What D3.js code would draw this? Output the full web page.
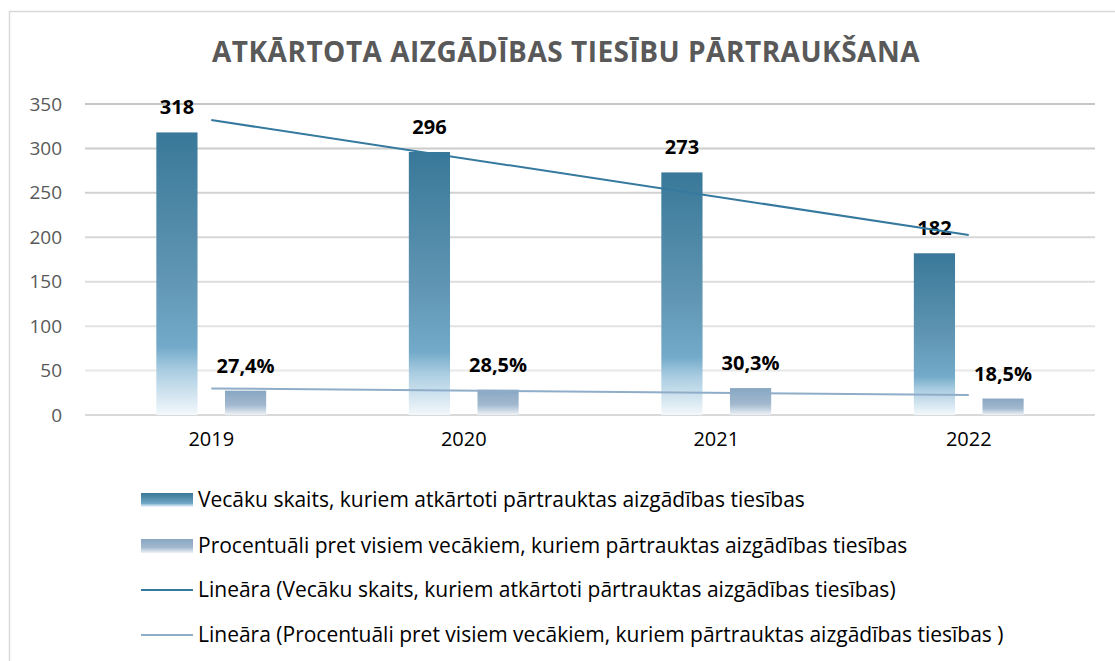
<!DOCTYPE html>
<html>
<head>
<meta charset="utf-8">
<script src="https://cdn.jsdelivr.net/npm/d3@7"></script>
<style>
  body { margin: 0; background: #fff; overflow: hidden; }
  svg { display: block; }
  text { font-family: "Open Sans", Lato, sans-serif; }
</style>
</head>
<body>
<div id="chart"></div>
<script>
const years = ['2019', '2020', '2021', '2022']
const parents = [318, 296, 273, 182]
const percents = [27.4, 28.5, 30.3, 18.5]
const yTickValues = [0, 50, 100, 150, 200, 250, 300, 350]
const title = 'ATKĀRTOTA AIZGĀDĪBAS TIESĪBU PĀRTRAUKŠANA'
const legendNames = [
  'Vecāku skaits, kuriem atkārtoti pārtrauktas aizgādības tiesības',
  'Procentuāli pret visiem vecākiem, kuriem pārtrauktas aizgādības tiesības',
  'Lineāra (Vecāku skaits, kuriem atkārtoti pārtrauktas aizgādības tiesības)',
  'Lineāra (Procentuāli pret visiem vecākiem, kuriem pārtrauktas aizgādības tiesības )'
]

const width = 1115, height = 661
const margin = {left: 85, right: 20, top: 104, bottom: 246}
const innerWidth = width - margin.left - margin.right
const innerHeight = height - margin.top - margin.bottom
const fontFam = '"Open Sans", Lato, sans-serif'

const lvFormat = d3.formatLocale({decimal: ',', thousands: ' ', grouping: [3], currency: ['', '€']})
const pctFormat = d => lvFormat.format('.1f')(d) + '%'

const svg = d3.select('#chart').append('svg')
  .attr('width', width)
  .attr('height', height)

const defs = svg.append('defs')

function gradient(id, stops) {
  const gr = defs.append('linearGradient')
    .attr('id', id)
    .attr('x1', 0).attr('y1', 0).attr('x2', 0).attr('y2', 1)
  gr.selectAll('stop').data(stops).enter().append('stop')
    .attr('offset', d => d[0])
    .attr('stop-color', d => d[1])
}
gradient('gradParents', [[0, '#397899'], [0.5, '#5f95b2'], [0.76, '#73aac9'], [0.84, '#a9cce1'], [1, '#f3f8fb']])
gradient('gradPct', [[0, '#88a6c2'], [0.6, '#a2b9cf'], [1, '#eef2f6']])

// outer frame of the chart (only top and left edges are inside the window)
svg.append('path')
  .attr('d', `M9.5,${height}V11.5H${width}`)
  .attr('fill', 'none')
  .attr('stroke', '#d9d9d9')
  .attr('stroke-width', 1.5)

svg.append('text')
  .attr('x', 566)
  .attr('y', 62)
  .attr('text-anchor', 'middle')
  .attr('fill', '#595959')
  .attr('font-size', 28)
  .attr('font-weight', 'bold')
  .style('letter-spacing', '0.5px')
  .text(title)

const g = svg.append('g')
  .attr('transform', `translate(${margin.left},${margin.top})`)

const xScale = d3.scaleBand()
  .domain(years)
  .range([0, innerWidth])
  .paddingInner(0.565)
  .paddingOuter(0.2825)

const xInner = d3.scaleBand()
  .domain(['parents', 'pct'])
  .range([0, xScale.bandwidth()])
  .paddingInner(0.4)

const yScale = d3.scaleLinear()
  .domain([0, 350])
  .range([innerHeight, 0])

// gridlines, getting lighter towards the bottom
const gridColor = d3.interpolateRgb('#eeeeee', '#c6c6c6')
g.selectAll('.grid').data(yTickValues).enter().append('line')
  .attr('class', 'grid')
  .attr('x1', 0).attr('x2', innerWidth)
  .attr('y1', d => yScale(d)).attr('y2', d => yScale(d))
  .attr('stroke', d => d === 0 ? '#d9d9d9' : gridColor(d / 350))
  .attr('stroke-width', 2)

const yAxis = d3.axisLeft(yScale)
  .tickValues(yTickValues)
  .tickSize(0)
  .tickPadding(23)

const yAxisG = g.append('g').call(yAxis)
yAxisG.attr('font-family', fontFam).attr('font-size', 19)
yAxisG.select('.domain').remove()
yAxisG.selectAll('text')
  .attr('fill', '#595959')

const xAxis = d3.axisBottom(xScale)
  .tickSize(0)
  .tickPadding(17)

const xAxisG = g.append('g')
  .attr('transform', `translate(0,${innerHeight})`)
  .call(xAxis)
xAxisG.attr('font-family', fontFam).attr('font-size', 20)
xAxisG.select('.domain').remove()
xAxisG.selectAll('text')
  .attr('fill', '#000')

const series = [
  {key: 'parents', values: parents, fill: 'url(#gradParents)', label: d => d},
  {key: 'pct', values: percents, fill: 'url(#gradPct)', label: pctFormat}
]

series.forEach(s => {
  const bars = g.selectAll('.bar-' + s.key).data(s.values).enter()
  bars.append('rect')
    .attr('class', 'bar-' + s.key)
    .attr('x', (d, i) => xScale(years[i]) + xInner(s.key))
    .attr('width', xInner.bandwidth())
    .attr('y', d => yScale(d))
    .attr('height', d => innerHeight - yScale(d))
    .attr('fill', s.fill)
  bars.append('text')
    .attr('x', (d, i) => xScale(years[i]) + xInner(s.key) + xInner.bandwidth() / 2)
    .attr('y', d => yScale(d) - 18)
    .attr('text-anchor', 'middle')
    .attr('font-size', 20)
    .attr('font-weight', 'bold')
    .attr('fill', '#000')
    .text(s.label)
})

// linear trendlines (least squares, like Excel)
function trend(values) {
  const xs = values.map((d, i) => i + 1)
  const mx = d3.mean(xs), my = d3.mean(values)
  const slope = d3.sum(xs, (x, i) => (x - mx) * (values[i] - my)) / d3.sum(xs, x => (x - mx) * (x - mx))
  const icpt = my - slope * mx
  return [1, values.length].map(x => [x, icpt + slope * x])
}

const xCenter = i => xScale(years[i - 1]) + xScale.bandwidth() / 2
const trendLine = d3.line()
  .x(d => xCenter(d[0]))
  .y(d => yScale(d[1]))

const trendColors = ['#35799e', '#8fadc9']
;[parents, percents].forEach((vals, k) => {
  g.append('path')
    .attr('d', trendLine(trend(vals)))
    .attr('fill', 'none')
    .attr('stroke', trendColors[k])
    .attr('stroke-width', 2)
})

// legend
const legend = svg.append('g').attr('transform', 'translate(141,0)')
const legendY = [500, 546, 590, 635]
legendNames.forEach((name, i) => {
  const row = legend.append('g').attr('transform', `translate(0,${legendY[i]})`)
  if (i < 2) {
    row.append('rect')
      .attr('x', 0).attr('y', -7)
      .attr('width', 52).attr('height', 14)
      .attr('fill', i === 0 ? 'url(#gradParents)' : 'url(#gradPct)')
  } else {
    row.append('line')
      .attr('x1', 0).attr('x2', 52)
      .attr('stroke', trendColors[i - 2])
      .attr('stroke-width', 2)
  }
  row.append('text')
    .attr('x', 57)
    .attr('dy', '0.35em')
    .attr('font-size', 21)
    .attr('fill', '#000')
    .text(name)
})
</script>
</body>
</html>
